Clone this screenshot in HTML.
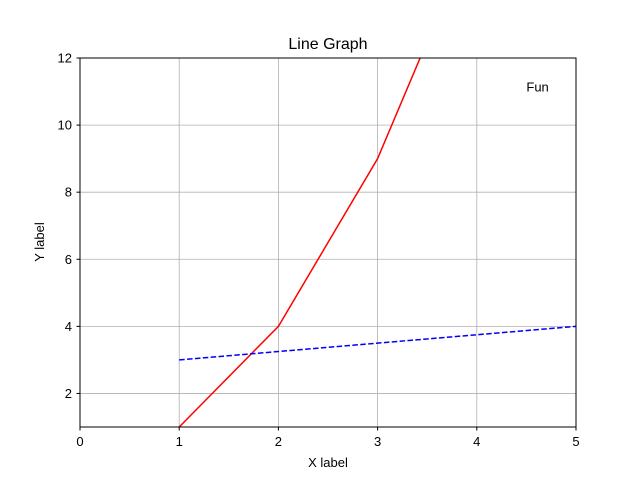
<!DOCTYPE html>
<html><head><meta charset="utf-8"><style>body{margin:0;background:#fff}svg{display:block;font-family:"Liberation Sans","DejaVu Sans",sans-serif}</style></head>
<body>
<svg id="chart" width="640" height="480">
<defs><clipPath id="clip"><rect x="80" y="58" width="496" height="369"/></clipPath></defs>
<g id="grid"></g>
<g id="series" clip-path="url(#clip)"></g>
<rect x="80" y="58" width="496" height="369" fill="none" stroke="#000" stroke-width="1"/>
<g id="axes"></g>
<text x="328" y="49" text-anchor="middle" font-size="16">Line Graph</text>
<text x="328" y="467" text-anchor="middle" font-size="13">X label</text>
<text transform="translate(44,242) rotate(-90)" text-anchor="middle" font-size="13">Y label</text>
<text id="fun" font-size="13">Fun</text>
</svg>
<script>
const xTicks = [0, 1, 2, 3, 4, 5];
const yTicks = [2, 4, 6, 8, 10, 12];
const redX = [1, 2, 3, 4];
const redY = [1, 4, 9, 16];
const blueX = [1, 2, 3, 4, 5];
const blueY = [3, 3.25, 3.5, 3.75, 4];
const annX = 4.5, annY = 11;
const NS = "http://www.w3.org/2000/svg";
const sx = v => 80 + (v - 0) / 5 * 496;
const sy = v => 427 - (v - 1) / 11 * 369;
function mk(tag, attrs, parent){const e=document.createElementNS(NS,tag);for(const k in attrs)e.setAttribute(k,attrs[k]);parent.appendChild(e);return e;}
const grid=document.getElementById('grid'), axes=document.getElementById('axes'), series=document.getElementById('series');
xTicks.forEach(t=>{
  const g=mk('line',{x1:sx(t),x2:sx(t),y1:58,y2:427,stroke:'#b0b0b0','stroke-width':0.8},grid);
  
  
  const tk=mk('line',{x1:sx(t),x2:sx(t),y1:427,y2:430.5,stroke:'#000'},axes);
  
  
  const tl=mk('text',{x:sx(t),y:446,'text-anchor':'middle','font-size':13},axes);
  tl.textContent=t;
  
  
});
yTicks.forEach(t=>{
  const g=mk('line',{x1:80,x2:576,y1:sy(t),y2:sy(t),stroke:'#b0b0b0','stroke-width':0.8},grid);
  
  
  const tk=mk('line',{x1:76.5,x2:80,y1:sy(t),y2:sy(t),stroke:'#000'},axes);
  
  
  const tl=mk('text',{x:72,y:sy(t)+4.5,'text-anchor':'end','font-size':13},axes);
  tl.textContent=t;
  
  
});
const red=mk('polyline',{points:redX.map((x,i)=>sx(x)+','+sy(redY[i])).join(' '),fill:'none',stroke:'#ff0000','stroke-width':1.5},series);


const blue=mk('polyline',{points:blueX.map((x,i)=>sx(x)+','+sy(blueY[i])).join(' '),fill:'none',stroke:'#0000ff','stroke-width':1.5,'stroke-dasharray':'5.5,2.4'},series);


const f=document.getElementById('fun');f.setAttribute('x',sx(annX));f.setAttribute('y',sy(annY));
</script>
</body></html>
